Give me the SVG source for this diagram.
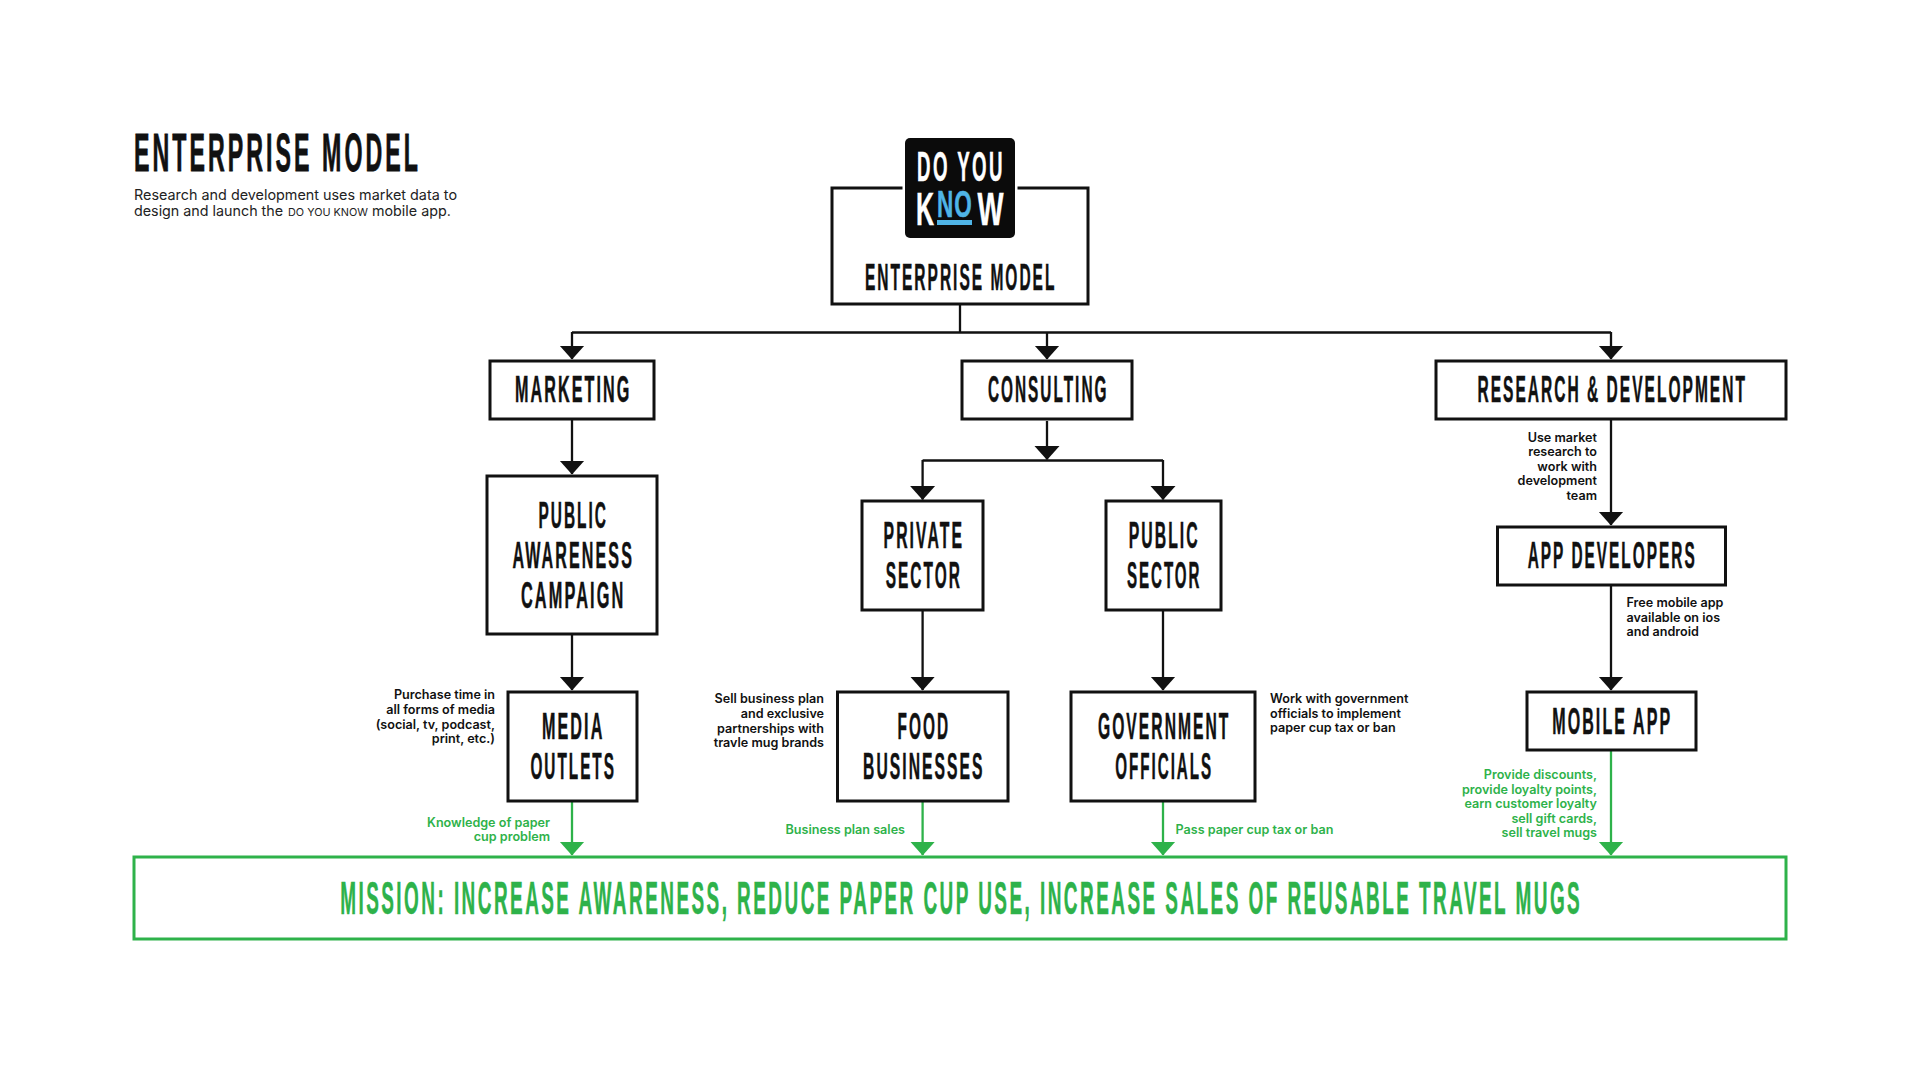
<svg xmlns="http://www.w3.org/2000/svg" width="1920" height="1080" viewBox="0 0 1920 1080">
<style>
.box{fill:#fff;stroke:#111;stroke-width:3}
.gbox{fill:#fff;stroke:#2eb24a;stroke-width:3}
.c{fill:none;stroke:#111;stroke-width:2.3}
.g{fill:none;stroke:#2eb24a;stroke-width:2.3}
.h{font-family:"Liberation Sans",Arial,sans-serif;font-weight:700;font-size:36px;letter-spacing:.13em;fill:#111;stroke:#111;stroke-width:.5;text-anchor:middle}
.m{font-family:"Inter","Liberation Sans",sans-serif;font-weight:600;font-size:12.6px;fill:#111}
.gt{fill:#2eb24a}
.e{text-anchor:end}
.body{font-family:"Inter","Liberation Sans",sans-serif;font-size:14.3px;fill:#222}
</style>
<defs>
<marker id="ak" markerUnits="userSpaceOnUse" markerWidth="26" markerHeight="15" refX="13" refY="13.5" viewBox="0 0 26 15"><path d="M.5 0H25.5L13 14Z" fill="#111"/></marker>
<marker id="ag" markerUnits="userSpaceOnUse" markerWidth="26" markerHeight="15" refX="13" refY="13.5" viewBox="0 0 26 15"><path d="M.5 0H25.5L13 14Z" fill="#2eb24a"/></marker>
</defs>
<rect width="1920" height="1080" fill="#fff"/>
<g id="heading">
<text class="h" x="277.5" y="170.5" style="font-size:54px;stroke-width:.8" textLength="287" lengthAdjust="spacingAndGlyphs">ENTERPRISE MODEL</text>
<text class="body" x="134" y="199.5" textLength="323" lengthAdjust="spacingAndGlyphs">Research and development uses market data to</text>
<text class="body" x="134" y="215.5">design and launch the</text>
<text class="body" x="288" y="215.5" style="font-size:10.5px" textLength="80" lengthAdjust="spacingAndGlyphs">DO YOU KNOW</text>
<text class="body" x="372" y="215.5">mobile app.</text>
</g>
<g id="connectors">
<path class="c" d="M960 304V332.5M572 332.5H1611"/>
<path class="c" d="M572 332V359" marker-end="url(#ak)"/>
<path class="c" d="M1047 332V359" marker-end="url(#ak)"/>
<path class="c" d="M1611 332V359" marker-end="url(#ak)"/>
<path class="c" d="M572 419V474" marker-end="url(#ak)"/>
<path class="c" d="M572 634V690" marker-end="url(#ak)"/>
<path class="c" d="M1047 421V459.5" marker-end="url(#ak)"/>
<path class="c" d="M922.6 460.5H1163"/>
<path class="c" d="M922.6 460V499.5" marker-end="url(#ak)"/>
<path class="c" d="M1163 460V499.5" marker-end="url(#ak)"/>
<path class="c" d="M922.6 610V690" marker-end="url(#ak)"/>
<path class="c" d="M1163 610V690" marker-end="url(#ak)"/>
<path class="c" d="M1611 419V525" marker-end="url(#ak)"/>
<path class="c" d="M1611 585V690" marker-end="url(#ak)"/>
<path class="g" d="M572 801V855" marker-end="url(#ag)"/>
<path class="g" d="M922.6 801V855" marker-end="url(#ag)"/>
<path class="g" d="M1163 801V855" marker-end="url(#ag)"/>
<path class="g" d="M1611 750V855" marker-end="url(#ag)"/>
</g>
<g id="root">
<rect class="box" x="832" y="188" width="256" height="116"/>
<rect x="902.5" y="180" width="115" height="20" fill="#fff"/>
<text class="h" x="960.7" y="290" textLength="191.5" lengthAdjust="spacingAndGlyphs">ENTERPRISE MODEL</text>
</g>
<g id="logo">
<rect x="905" y="138" width="110" height="100" rx="5" fill="#0b0b0b"/>
<text class="h" x="961" y="181" style="font-size:43px;fill:#fff;stroke:#fff" textLength="88" lengthAdjust="spacingAndGlyphs">DO YOU</text>
<text class="h" x="925" y="225" style="font-size:47px;letter-spacing:0;fill:#fff;stroke:#fff" textLength="18" lengthAdjust="spacingAndGlyphs">K</text>
<text class="h" x="955" y="217" style="font-size:36px;letter-spacing:.05em;fill:#4fb4e6;stroke:#4fb4e6" textLength="36" lengthAdjust="spacingAndGlyphs">NO</text>
<rect x="937" y="220" width="35" height="5" fill="#4fb4e6"/>
<text class="h" x="990.5" y="225" style="font-size:47px;letter-spacing:0;fill:#fff;stroke:#fff" textLength="26" lengthAdjust="spacingAndGlyphs">W</text>
</g>
<g id="marketing"><rect class="box" x="490" y="361" width="164" height="58"/><text class="h" x="573.2" y="402" textLength="116.5" lengthAdjust="spacingAndGlyphs">MARKETING</text></g>
<g id="consulting"><rect class="box" x="962" y="361" width="170" height="58"/><text class="h" x="1048.2" y="402" textLength="120.5" lengthAdjust="spacingAndGlyphs">CONSULTING</text></g>
<g id="research"><rect class="box" x="1436" y="361" width="350" height="58"/><text class="h" x="1612.2" y="402" textLength="269.5" lengthAdjust="spacingAndGlyphs">RESEARCH &amp; DEVELOPMENT</text></g>
<g id="awareness"><rect class="box" x="487" y="476" width="170" height="158"/><text class="h" x="573.2" y="528" textLength="69.5" lengthAdjust="spacingAndGlyphs">PUBLIC</text><text class="h" x="573.2" y="568" textLength="121.5" lengthAdjust="spacingAndGlyphs">AWARENESS</text><text class="h" x="573.2" y="608" textLength="104.5" lengthAdjust="spacingAndGlyphs">CAMPAIGN</text></g>
<g id="private"><rect class="box" x="862" y="501" width="121" height="109"/><text class="h" x="923.8" y="547.5" textLength="80.5" lengthAdjust="spacingAndGlyphs">PRIVATE</text><text class="h" x="923.8" y="588" textLength="76" lengthAdjust="spacingAndGlyphs">SECTOR</text></g>
<g id="public"><rect class="box" x="1106" y="501" width="115" height="109"/><text class="h" x="1164.2" y="547.5" textLength="71" lengthAdjust="spacingAndGlyphs">PUBLIC</text><text class="h" x="1164.2" y="588" textLength="74.5" lengthAdjust="spacingAndGlyphs">SECTOR</text></g>
<g id="media"><rect class="box" x="508" y="692" width="129" height="109"/><text class="h" x="573.2" y="738.5" textLength="62.5" lengthAdjust="spacingAndGlyphs">MEDIA</text><text class="h" x="573.2" y="778.5" textLength="85.5" lengthAdjust="spacingAndGlyphs">OUTLETS</text></g>
<g id="food"><rect class="box" x="837.5" y="692" width="170.5" height="109"/><text class="h" x="923.8" y="738.5" textLength="52.5" lengthAdjust="spacingAndGlyphs">FOOD</text><text class="h" x="923.8" y="778.5" textLength="121.5" lengthAdjust="spacingAndGlyphs">BUSINESSES</text></g>
<g id="government"><rect class="box" x="1071" y="692" width="184" height="109"/><text class="h" x="1164.2" y="738.5" textLength="132.5" lengthAdjust="spacingAndGlyphs">GOVERNMENT</text><text class="h" x="1164.2" y="778.5" textLength="98" lengthAdjust="spacingAndGlyphs">OFFICIALS</text></g>
<g id="appdev"><rect class="box" x="1497.5" y="527" width="228" height="58"/><text class="h" x="1612.2" y="568" textLength="169" lengthAdjust="spacingAndGlyphs">APP DEVELOPERS</text></g>
<g id="mobile"><rect class="box" x="1527" y="692" width="169" height="58"/><text class="h" x="1612.2" y="733.5" textLength="120" lengthAdjust="spacingAndGlyphs">MOBILE APP</text></g>
<g id="mission"><rect class="gbox" x="134" y="857" width="1652" height="82"/><text class="h" x="961.2" y="914" style="font-size:46px;fill:#2eb24a;stroke:#2eb24a" textLength="1242" lengthAdjust="spacingAndGlyphs">MISSION: INCREASE AWARENESS, REDUCE PAPER CUP USE, INCREASE SALES OF REUSABLE TRAVEL MUGS</text></g>
<g id="labels">
<text class="m e"><tspan x="495" y="699">Purchase time in</tspan><tspan x="495" y="714">all forms of media</tspan><tspan x="495" y="728.5">(social, tv, podcast,</tspan><tspan x="495" y="743">print, etc.)</tspan></text>
<text class="m e"><tspan x="824" y="703">Sell business plan</tspan><tspan x="824" y="718">and exclusive</tspan><tspan x="824" y="732.5">partnerships with</tspan><tspan x="824" y="747">travle mug brands</tspan></text>
<text class="m"><tspan x="1270" y="703">Work with government</tspan><tspan x="1270" y="718">officials to implement</tspan><tspan x="1270" y="732">paper cup tax or ban</tspan></text>
<text class="m e"><tspan x="1597" y="441.5">Use market</tspan><tspan x="1597" y="456">research to</tspan><tspan x="1597" y="470.5">work with</tspan><tspan x="1597" y="485">development</tspan><tspan x="1597" y="500">team</tspan></text>
<text class="m"><tspan x="1626.5" y="607">Free mobile app</tspan><tspan x="1626.5" y="621.5">available on ios</tspan><tspan x="1626.5" y="636">and android</tspan></text>
<text class="m e gt"><tspan x="550" y="826.5">Knowledge of paper</tspan><tspan x="550" y="841">cup problem</tspan></text>
<text class="m e gt" x="905" y="833.5">Business plan sales</text>
<text class="m gt" x="1175.5" y="833.5">Pass paper cup tax or ban</text>
<text class="m e gt"><tspan x="1597" y="779">Provide discounts,</tspan><tspan x="1597" y="793.5">provide loyalty points,</tspan><tspan x="1597" y="808">earn customer loyalty</tspan><tspan x="1597" y="822.5">sell gift cards,</tspan><tspan x="1597" y="837">sell travel mugs</tspan></text>
</g>
</svg>
